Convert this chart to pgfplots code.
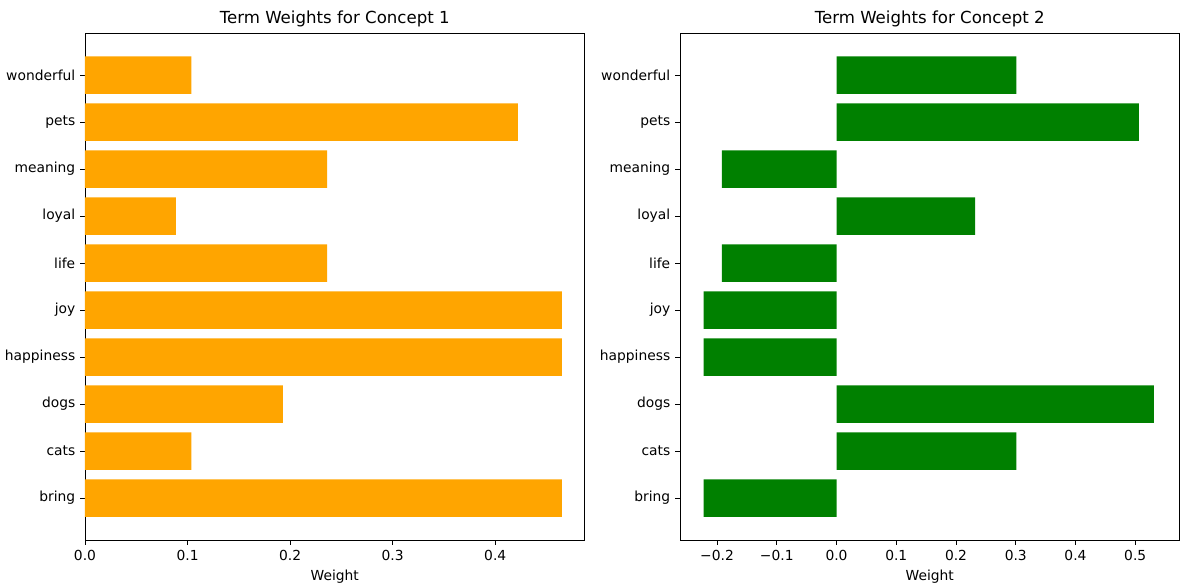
\documentclass[border=0pt]{standalone}
\usepackage{pgfplots}
\pgfplotsset{compat=1.18}
\usepackage{fontspec}
\setmainfont{DejaVu Sans}
\definecolor{barorange}{RGB}{255,165,0}
\definecolor{bargreen}{RGB}{0,128,0}

% 1 px of the reference = 0.72bp
\pgfplotsset{
  termplot/.style={
    scale only axis,
    width=359.6bp, height=364.8bp,
    xbar, bar width=0.8, bar shift=0pt,
    ymin=-0.89, ymax=9.89,
    ytick={0,...,9},
    yticklabels={bring,cats,dogs,happiness,joy,life,loyal,meaning,pets,wonderful},
    tick align=outside,
    major tick length=3.5bp,
    tick style={black, line width=0.6pt},
    axis line style={line width=0.6pt},
    ticklabel style={font=\fontsize{10}{12}\selectfont},
    xtick pos=bottom, ytick pos=left,
    /pgf/number format/assume math mode=true,
    /pgf/number format/.cd, fixed, fixed zerofill, precision=1,
    /pgfplots/.cd,
    xlabel={Weight},
    xlabel style={font=\fontsize{10}{12}\selectfont, yshift=0bp},
    title style={font=\fontsize{12}{14}\selectfont, yshift=-5bp},
  }
}

\begin{document}
\begin{tikzpicture}
\useasboundingbox (-61.2bp,-33.8bp) rectangle (795.6bp,388.8bp);
\begin{axis}[termplot,
  xmin=0, xmax=0.487,
  xtick={0,0.1,...,0.4},
  title={Term Weights for Concept 1}]
\addplot[fill=barorange, draw=none] coordinates {
  (0.465,0) (0.1037,1) (0.193,2) (0.465,3) (0.465,4)
  (0.236,5) (0.0885,6) (0.236,7) (0.422,8) (0.1037,9)
};
\end{axis}

\begin{axis}[termplot, at={(428.4bp,0)},
  xmin=-0.262, xmax=0.574,
  xtick={-0.2,-0.1,...,0.5},
  xticklabels={−0.2,−0.1,0.0,0.1,0.2,0.3,0.4,0.5},
  title={Term Weights for Concept 2}]
\addplot[fill=bargreen, draw=none] coordinates {
  (-0.2226,0) (0.301,1) (0.531,2) (-0.2226,3) (-0.2226,4)
  (-0.192,5) (0.232,6) (-0.192,7) (0.506,8) (0.301,9)
};
\end{axis}
\end{tikzpicture}
\end{document}
